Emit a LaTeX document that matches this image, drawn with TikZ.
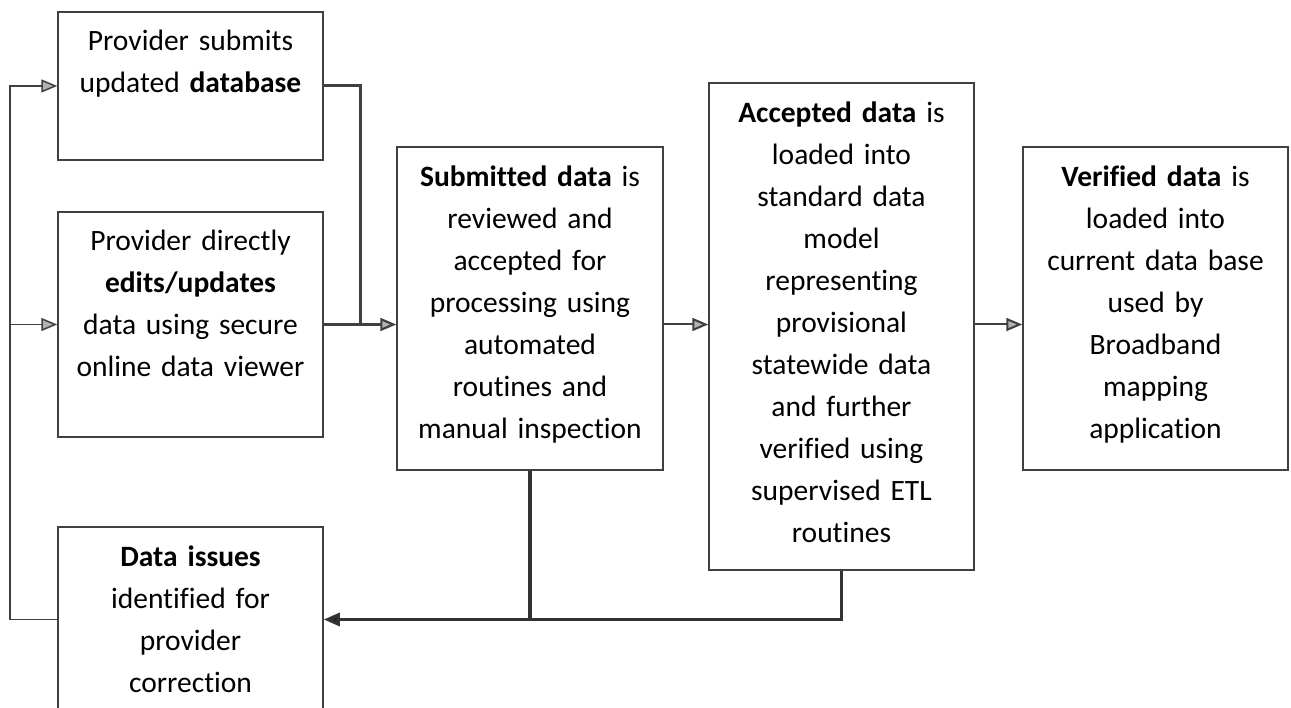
\documentclass[tikz,border=0pt]{standalone}
\usepackage{fontspec}
\setmainfont{Carlito}[Ligatures=NoCommon]
\usetikzlibrary{arrows.meta,calc}
\tikzset{
  box/.style={draw=black!75, line width=1.5pt, rectangle, inner sep=0pt},
  txt/.style={anchor=north, inner sep=0pt, align=center, text width=250pt,
              font=\fontsize{29.5}{42}\selectfont, yshift=-19pt},
  conn/.style={draw=black!75, line width=1.5pt},
  garrow/.style={-{Triangle[length=16pt,width=13pt,fill=black!30]}},
  darrow/.style={-{Triangle[length=16pt,width=13pt,fill=black!85]}},
}
\begin{document}
\begin{tikzpicture}[x=1pt,y=-1pt]
\useasboundingbox (0,0) rectangle (1291,708);
\fill[white] (0,0) rectangle (1291,708);

% boxes
\node[box, minimum width=265pt, minimum height=148pt] (A) at (190.5,86) {};
\node[box, minimum width=265pt, minimum height=225pt] (B) at (190.5,324.5) {};
\node[box, minimum width=266pt, minimum height=323pt] (C) at (530,308.5) {};
\node[box, minimum width=265pt, minimum height=487pt] (D) at (841.5,326.5) {};
\node[box, minimum width=265pt, minimum height=323pt] (E) at (1155.5,308.5) {};
\node[box, minimum width=265pt, minimum height=185pt] (F) at (190.5,619.5) {};

% texts
\node[txt] (tA) at (A.north) {Provider submits\\updated \textbf{database}};
\node[txt] (tB) at (B.north) {Provider directly\\\textbf{edits/updates}\\data using secure\\online data viewer};
\node[txt] (tC) at (C.north) {\textbf{Submitted data} is\\reviewed and\\accepted for\\processing using\\automated\\routines and\\manual inspection};
\node[txt] (tD) at (D.north) {\textbf{Accepted data} is\\loaded into\\standard data\\model\\representing\\provisional\\statewide data\\and further\\verified using\\supervised ETL\\routines};
\node[txt] (tE) at (E.north) {\textbf{Verified data} is\\loaded into\\current data base\\used by\\Broadband\\mapping\\application};
\node[txt] (tF) at (F.north) {\textbf{Data issues}\\identified for\\provider\\correction};

% feedback loop on the left
\coordinate (L) at (10,619.5);
\draw[conn, garrow] (F.west) -- (L) |- (A.west);
\draw[conn, garrow] (L |- B.west) -- (B.west);

% inputs to C
\coordinate (J) at (360,324.5);
\draw[draw=black!75, line width=3pt] (A.east) -| (J);
\draw[conn, line width=2.2pt, garrow] (B.east) -- (B.east -| C.west);

% main flow
\draw[conn, line width=2pt, garrow] (C.east |- B.east) -- (D.west |- B.east);
\draw[conn, line width=2pt, garrow] (D.east |- B.east) -- (E.west |- B.east);

% returns to data issues
\draw[draw=black!80, line width=3.2pt] (C.south) -- (C.south |- F.east);
\draw[draw=black!80, line width=3.2pt, darrow] (D.south) |- (F.east);
\end{tikzpicture}
\end{document}
